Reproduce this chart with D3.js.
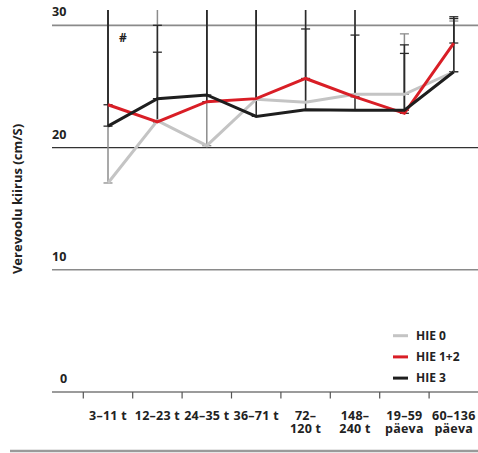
<!DOCTYPE html>
<html><head><meta charset="utf-8">
<script src="https://cdn.jsdelivr.net/npm/d3@7"></script>
<style>body{margin:0;background:#fff}svg{display:block}text{font-family:"Open Sans",sans-serif;font-weight:700;fill:#222}</style>
</head><body><svg id="c" width="478" height="453"></svg>
<script>
const categories = [["3–11 t"],["12–23 t"],["24–35 t"],["36–71 t"],["72–","120 t"],["148–","240 t"],["19–59","päeva"],["60–136","päeva"]];
const seriesNames = ["HIE 0","HIE 1+2","HIE 3"];
const hie0 = [17.1,22.2,20.15,23.95,23.7,24.35,24.35,26.2];
const hie12 = [23.5,22.1,23.75,24.0,25.65,24.15,22.8,28.55];
const hie3 = [21.75,24.0,24.3,22.55,23.1,23.05,23.05,26.2];
// upper end of error bar (mean + SD); values above the top are cut off
const hie0Upper = [34,34,34,34,34,34,29.3,30.35];
const hie12Upper = [34,30.0,34,34,29.7,29.2,28.4,30.7];
const hie3Upper = [34,27.8,34,34,34,34,27.7,30.55];
const yTicks = [0,10,20,30];
const annotation = "#";

const svg = d3.select("#c");
const x = d3.scaleBand().domain(d3.range(categories.length)).range([83.3,478.5]).padding(0);
const y = d3.scaleLinear().domain([0,30]).range([392,25.3]);
const cx = i => x(i) + x.bandwidth()/2;

svg.append("defs").append("clipPath").attr("id","clip")
  .append("rect").attr("x",0).attr("y",10).attr("width",478).attr("height",400);

// gridlines
const gridStyle = {0:["#7a7a7a",1.6],10:["#8a8a8a",1.6],20:["#333",1.2],30:["#8a8a8a",1.8]};
yTicks.forEach(t=>{
  svg.append("line").attr("x1",52).attr("x2",478).attr("y1",y(t)).attr("y2",y(t))
    .attr("stroke",gridStyle[t][0]).attr("stroke-width",gridStyle[t][1]);
  svg.append("text").attr("x", t===0?60:52).attr("y",y(t)-9).attr("font-size",12.5).text(t);
});

// x ticks & labels
categories.forEach((c,i)=>{
  svg.append("line").attr("x1",x(i)).attr("x2",x(i)).attr("y1",392).attr("y2",398.5)
    .attr("stroke","#555").attr("stroke-width",1.2);
  c.forEach((s,k)=>svg.append("text").attr("text-anchor","middle").attr("font-size",12.5)
    .attr("letter-spacing","0.25").attr("x",cx(i)).attr("y",420+k*13).text(s));
});

// bottom rule
svg.append("line").attr("x1",10).attr("x2",478).attr("y1",451).attr("y2",451).attr("stroke","#9a9a9a").attr("stroke-width",2.5);

// y title
svg.append("text").attr("transform","translate(22,199) rotate(-90)").attr("text-anchor","middle")
  .attr("font-size",13).text("Verevoolu kiirus (cm/S)");

const series = [
  {name:seriesNames[0], vals:hie0, up:hie0Upper, color:"#c4c4c4", bar:"#8c8c8c"},
  {name:seriesNames[1], vals:hie12, up:hie12Upper, color:"#d91e26", bar:"#2a2a2a"},
  {name:seriesNames[2], vals:hie3, up:hie3Upper, color:"#1e1e1e", bar:"#2a2a2a"}
];

// error bars
const eb = svg.append("g").attr("clip-path","url(#clip)");
series.forEach(s=>{
  s.vals.forEach((v,i)=>{
    eb.append("line").attr("x1",cx(i)).attr("x2",cx(i)).attr("y1",y(v)).attr("y2",y(s.up[i]))
      .attr("stroke",s.bar).attr("stroke-width",1.5);
    [v,s.up[i]].forEach(e=>{
      eb.append("line").attr("x1",cx(i)-4.5).attr("x2",cx(i)+4.5).attr("y1",y(e)).attr("y2",y(e))
        .attr("stroke",s.bar).attr("stroke-width",1.3);
    });
  });
});

// lines
const line = d3.line().x((d,i)=>cx(i)).y(d=>y(d));
series.forEach(s=>{
  svg.append("path").datum(s.vals).attr("d",line).attr("fill","none")
    .attr("stroke",s.color).attr("stroke-width",3).attr("stroke-linejoin","miter");
});

svg.append("text").attr("x",123).attr("y",42).attr("text-anchor","middle").attr("font-size",12).text(annotation);

// legend
series.forEach((s,k)=>{
  const ly = 335.7 + k*21.2;
  svg.append("line").attr("x1",393).attr("x2",408).attr("y1",ly).attr("y2",ly).attr("stroke",s.color).attr("stroke-width",3);
  svg.append("text").attr("x",416).attr("y",ly+4.3).attr("font-size",12).text(s.name);
});
</script></body></html>
